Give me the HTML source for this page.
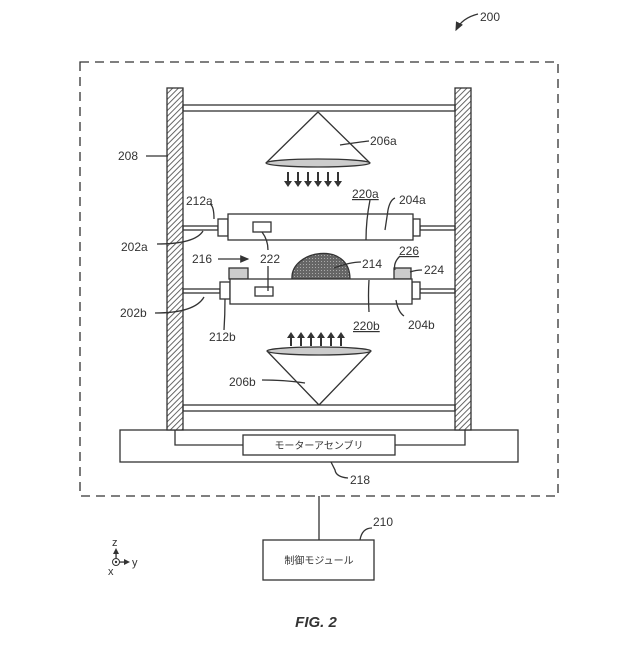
<!DOCTYPE html>
<html><head><meta charset="utf-8"><style>
body{margin:0;background:#fff}
svg text{font-family:"Liberation Sans","Noto Sans CJK JP",sans-serif;fill:#333}
</style></head><body>
<svg width="640" height="640" viewBox="0 0 640 640" xmlns="http://www.w3.org/2000/svg">
<defs>
<pattern id="h" width="4" height="4" patternUnits="userSpaceOnUse" patternTransform="rotate(45)">
<rect width="4" height="4" fill="#fff"/><line x1="0" y1="0" x2="0" y2="4" stroke="#555" stroke-width="1.8"/></pattern>
<pattern id="d" width="3" height="3" patternUnits="userSpaceOnUse"><rect width="3" height="3" fill="#666"/><rect width="1" height="1" fill="#aaa"/></pattern>
<marker id="a" markerWidth="8" markerHeight="8" refX="6" refY="4" orient="auto"><path d="M0,1 L7,4 L0,7z" fill="#333"/></marker>
</defs>
<g fill="none" stroke="#333" stroke-width="1.3">
<rect x="80" y="62" width="478" height="434" stroke-dasharray="9,6"/>
<rect x="120" y="430" width="398" height="32" fill="#fff"/>
<path d="M175,430 V445 H243 M395,445 H465 V430"/>
<rect x="243" y="435" width="152" height="20" fill="#fff"/>
<rect x="167" y="88" width="16" height="342" fill="url(#h)"/>
<rect x="455" y="88" width="16" height="342" fill="url(#h)"/>
<rect x="183" y="105" width="272" height="6"/>
<rect x="183" y="405" width="272" height="6"/>
<rect x="183" y="226" width="35" height="4"/><rect x="420" y="226" width="35" height="4"/>
<rect x="183" y="289" width="37" height="4"/><rect x="420" y="289" width="35" height="4"/>
<rect x="218" y="219" width="10" height="17" fill="#fff"/><rect x="413" y="219" width="7" height="17" fill="#fff"/>
<rect x="228" y="214" width="185" height="26" fill="#fff"/>
<rect x="253" y="222" width="18" height="10"/>
<path d="M292,279 C290,250 350,240 350,279 Z" fill="url(#d)"/>
<rect x="229" y="268" width="19" height="11" fill="#ccc"/>
<rect x="394" y="268" width="17" height="11" fill="#ccc"/>
<rect x="220" y="282" width="10" height="17" fill="#fff"/><rect x="412" y="282" width="8" height="17" fill="#fff"/>
<rect x="230" y="279" width="182" height="25" fill="#fff"/>
<rect x="255" y="287" width="18" height="9"/>
<path d="M318,112 L266,163 M318,112 L370,163"/>
<ellipse cx="318" cy="163" rx="52" ry="4" fill="#ccc"/>
<path d="M267,351 L319,405 M371,351 L319,405"/>
<ellipse cx="319" cy="351" rx="52" ry="4" fill="#ccc"/>
<line x1="319" y1="496" x2="319" y2="540"/>
<rect x="263" y="540" width="111" height="40"/>
<path d="M146,156 H168" /><path d="M369,141 Q360,142 340,145"/>
<path d="M157,244 Q195,244 203,231"/><path d="M155,313 Q195,313 204,297"/>
<path d="M210,204 Q214,206 214,219"/><path d="M224,330 Q225,315 225,299"/>
<path d="M370,200 Q366,220 366,240"/><path d="M369,312 Q368,295 369,280"/>
<path d="M395,198 Q390,200 388,210 L385,230"/><path d="M404,316 Q398,312 396,300"/>
<path d="M262,232 Q268,240 268,250"/><path d="M268,266 V291"/>
<path d="M218,259 H248" marker-end="url(#a)"/>
<path d="M361,262 Q350,262 334,268"/>
<path d="M395,270 Q393,263 400,256" /><path d="M410,272 Q416,270 422,270"/>
<path d="M348,478 Q336,477 335,470 L331,462"/>
<path d="M262,380 Q285,380 305,383"/>
<path d="M372,528 Q362,528 360,540"/>
<path d="M478,14 Q462,18 456,30" marker-end="url(#a)"/>
</g>
<g fill="#333">
<path d="M287,172v9h-3l4,6 4,-6h-3v-9z"/><path d="M297,172v9h-3l4,6 4,-6h-3v-9z"/><path d="M307,172v9h-3l4,6 4,-6h-3v-9z"/><path d="M317,172v9h-3l4,6 4,-6h-3v-9z"/><path d="M327,172v9h-3l4,6 4,-6h-3v-9z"/><path d="M337,172v9h-3l4,6 4,-6h-3v-9z"/>
<path d="M290,346v-8h-3l4,-6 4,6h-3v8z"/><path d="M300,346v-8h-3l4,-6 4,6h-3v8z"/><path d="M310,346v-8h-3l4,-6 4,6h-3v8z"/><path d="M320,346v-8h-3l4,-6 4,6h-3v8z"/><path d="M330,346v-8h-3l4,-6 4,6h-3v8z"/><path d="M340,346v-8h-3l4,-6 4,6h-3v8z"/>
<path d="M116,548l-3,6h6z"/><rect x="115.4" y="553" width="1.3" height="6"/>
<circle cx="116" cy="562" r="3.5" fill="none" stroke="#333"/><circle cx="116" cy="562" r="1.2"/>
<rect x="119" y="561.4" width="6" height="1.3"/><path d="M124,559l6,3-6,3z"/>
</g>
<g font-size="12">
<text x="480" y="21">200</text>
<text x="370" y="145">206a</text>
<text x="118" y="160">208</text>
<text x="186" y="205">212a</text>
<text x="352" y="198" text-decoration="underline">220a</text>
<text x="399" y="204">204a</text>
<text x="121" y="251">202a</text>
<text x="192" y="263">216</text>
<text x="260" y="263">222</text>
<text x="362" y="268">214</text>
<text x="399" y="255" text-decoration="underline">226</text>
<text x="424" y="274">224</text>
<text x="120" y="317">202b</text>
<text x="209" y="341">212b</text>
<text x="353" y="330" text-decoration="underline">220b</text>
<text x="408" y="329">204b</text>
<text x="229" y="386">206b</text>
<text x="350" y="484">218</text>
<text x="373" y="526">210</text>
<text x="112" y="546" font-size="11">z</text>
<text x="132" y="566" font-size="11">y</text>
<text x="108" y="575" font-size="11">x</text>
<text x="319" y="449" font-size="10" text-anchor="middle">モーターアセンブリ</text>
<text x="319" y="564" font-size="10" text-anchor="middle">制御モジュール</text>
<text x="316" y="627" font-size="15" font-weight="bold" font-style="italic" text-anchor="middle">FIG. 2</text>
</g>
</svg>
</body></html>
